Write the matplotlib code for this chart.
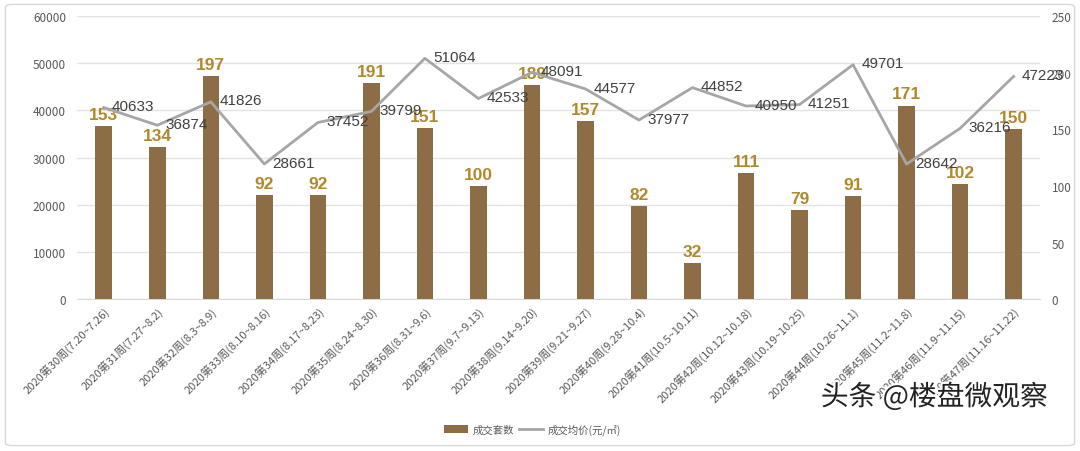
import matplotlib.pyplot as plt
import matplotlib.patheffects as pe
from matplotlib.patches import FancyBboxPatch
from matplotlib.lines import Line2D
from matplotlib.patches import Patch

plt.rcParams['font.family'] = ['Noto Sans CJK SC', 'DejaVu Sans']

# 数据
weeks = ['2020第30周(7.20~7.26)', '2020第31周(7.27~8.2)', '2020第32周(8.3~8.9)',
         '2020第33周(8.10~8.16)', '2020第34周(8.17~8.23)', '2020第35周(8.24~8.30)',
         '2020第36周(8.31~9.6)', '2020第37周(9.7~9.13)', '2020第38周(9.14~9.20)',
         '2020第39周(9.21~9.27)', '2020第40周(9.28~10.4)', '2020第41周(10.5~10.11)',
         '2020第42周(10.12~10.18)', '2020第43周(10.19~10.25)', '2020第44周(10.26~11.1)',
         '2020第45周(11.2~11.8)', '2020第46周(11.9~11.15)', '2020第47周(11.16~11.22)']
units = [153, 134, 197, 92, 92, 191, 151, 100, 189, 157, 82, 32, 111, 79, 91, 171, 102, 150]
prices = [40633, 36874, 41826, 28661, 37452, 39799, 51064, 42533, 48091, 44577,
          37977, 44852, 40950, 41251, 49701, 28642, 36216, 47223]

bar_color = '#8C6D46'
label_gold = '#B08A2A'
line_color = '#A6A6A6'
tick_color = '#595959'

fig = plt.figure(figsize=(10.8, 4.52), dpi=100)

# 外框
border = FancyBboxPatch((0.005, 0.012), 0.99, 0.976, boxstyle='round,pad=0,rounding_size=0.006',
                        transform=fig.transFigure, facecolor='white', edgecolor='#D9D9D9',
                        linewidth=1.0, zorder=-10)
fig.patches.append(border)

ax = fig.add_axes([0.0713, 0.336, 0.892, 0.626])
ax2 = ax.twinx()

x = list(range(len(weeks)))

# 均价 (左轴) 网格
ax.set_ylim(0, 60000)
ax.set_yticks(range(0, 60001, 10000))
ax.grid(axis='y', color='#E3E3E3', linewidth=1)
ax.set_axisbelow(True)

# 套数柱状 (右轴)
ax2.bar(x, units, width=0.31, color=bar_color, zorder=2)
ax2.set_ylim(0, 250)
ax2.set_yticks(range(0, 251, 50))
for xi, v in zip(x, units):
    ax2.annotate(str(v), (xi, v), xytext=(0, 3), textcoords='offset points',
                 ha='center', va='bottom', fontsize=12.5, fontweight='bold',
                 color=label_gold, family=['Liberation Sans', 'DejaVu Sans'], zorder=5)

# 折线画在最上层
ax3 = ax.twinx()
ax3.set_ylim(0, 60000)
ax3.axis('off')
ax3.plot(x, prices, color=line_color, linewidth=2, zorder=3)
for xi, v in zip(x, prices):
    ax3.annotate(str(v), (xi, v), xytext=(6, 1), textcoords='offset points',
                 ha='left', va='center', fontsize=11, color='#404040',
                 family=['Liberation Sans', 'DejaVu Sans'], zorder=6)

ax.set_xlim(-0.5, len(weeks) - 0.5)
ax.set_xticks(x)
ax.set_xticklabels(weeks, rotation=45, ha='right', rotation_mode='anchor',
                   fontsize=8, color=tick_color)

for a in (ax, ax2, ax3):
    for s in a.spines.values():
        s.set_visible(False)
ax.spines['bottom'].set_visible(True)
ax.spines['bottom'].set_color('#D9D9D9')

ax.tick_params(axis='y', length=0, labelsize=8.5, labelcolor=tick_color, pad=8)
ax.tick_params(axis='x', length=0, pad=4)
ax2.tick_params(axis='y', length=0, labelsize=8.5, labelcolor=tick_color, pad=8)

# 图例
handles = [Patch(facecolor=bar_color, edgecolor='none'),
           Line2D([0], [0], color=line_color, linewidth=2)]
fig.legend(handles, ['成交套数', '成交均价(元/㎡)'], loc='center', bbox_to_anchor=(0.493, 0.048),
           ncol=2, frameon=False, fontsize=7.5, labelcolor=tick_color,
           handlelength=2.3, handleheight=0.7, columnspacing=0.5, handletextpad=0.4)

# 水印
fig.text(0.970, 0.119, '头条 @楼盘微观察', ha='right', va='center', fontsize=20,
         color='#222222', path_effects=[pe.withStroke(linewidth=3, foreground='white')])

fig.savefig('out.png', dpi=100)
